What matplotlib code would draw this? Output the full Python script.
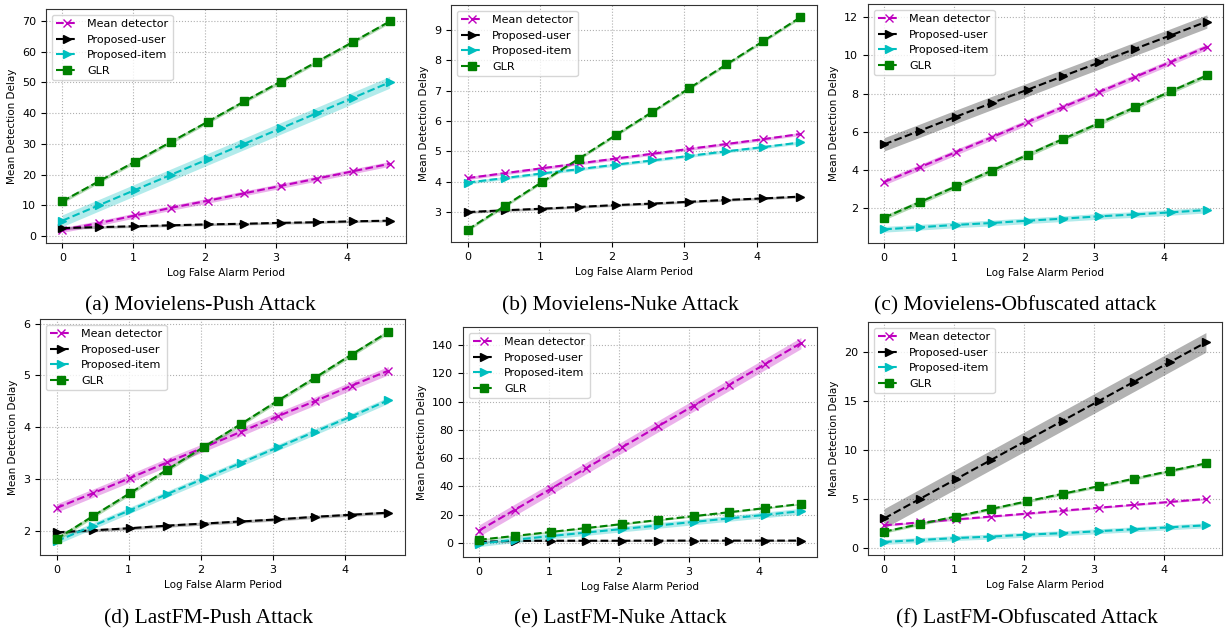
import numpy as np
import matplotlib
matplotlib.use("Agg")
import matplotlib.pyplot as plt

# x positions: log false alarm period
x_vals = [0.0, 0.512, 1.023, 1.535, 2.047, 2.558, 3.070, 3.582, 4.094, 4.605]

series_names = ["Mean detector", "Proposed-user", "Proposed-item", "GLR"]

# (a) Movielens-Push
a_mean = [2.0, 4.2, 6.7, 9.2, 11.5, 13.9, 16.3, 18.7, 21.1, 23.5]
a_user = [2.6, 2.9, 3.2, 3.5, 3.8, 4.0, 4.3, 4.5, 4.8, 5.0]
a_item = [5.0, 10.0, 15.0, 20.0, 25.0, 30.0, 35.0, 40.0, 45.0, 50.0]
a_glr = [11.3, 17.8, 24.2, 30.7, 37.2, 43.8, 50.2, 56.7, 63.2, 69.8]
a_err = [0.8, 0.4, 1.9, 0.6]

# (b) Movielens-Nuke
b_mean = [4.12, 4.28, 4.44, 4.60, 4.76, 4.92, 5.08, 5.24, 5.40, 5.57]
b_user = [3.00, 3.06, 3.11, 3.17, 3.23, 3.28, 3.34, 3.40, 3.45, 3.51]
b_item = [3.97, 4.12, 4.27, 4.41, 4.56, 4.70, 4.85, 5.00, 5.14, 5.29]
b_glr = [2.42, 3.20, 3.98, 4.75, 5.53, 6.30, 7.08, 7.86, 8.63, 9.41]
b_err = [0.05, 0.04, 0.05, 0.05]

# (c) Movielens-Obfuscated
c_mean = [3.35, 4.13, 4.92, 5.70, 6.50, 7.30, 8.08, 8.87, 9.66, 10.45]
c_user = [5.33, 6.05, 6.78, 7.50, 8.20, 8.92, 9.63, 10.35, 11.06, 11.78]
c_item = [0.87, 0.98, 1.10, 1.20, 1.32, 1.43, 1.55, 1.65, 1.76, 1.88]
c_glr = [1.48, 2.30, 3.12, 3.95, 4.78, 5.62, 6.45, 7.28, 8.12, 8.95]
c_err = [0.15, 0.35, 0.15, 0.12]

# (d) LastFM-Push
d_mean = [2.44, 2.73, 3.02, 3.32, 3.61, 3.91, 4.21, 4.50, 4.80, 5.09]
d_user = [1.97, 2.01, 2.05, 2.10, 2.14, 2.18, 2.22, 2.27, 2.31, 2.35]
d_item = [1.80, 2.10, 2.40, 2.71, 3.01, 3.31, 3.61, 3.91, 4.21, 4.52]
d_glr = [1.84, 2.29, 2.73, 3.18, 3.62, 4.06, 4.51, 4.95, 5.40, 5.84]
d_err = [0.08, 0.03, 0.06, 0.04]

# (e) LastFM-Nuke
e_mean = [8.8, 23.5, 38.2, 53.0, 67.7, 82.4, 97.1, 111.8, 126.5, 141.3]
e_user = [0.8, 1.5, 1.6, 1.6, 1.6, 1.7, 1.7, 1.7, 1.7, 1.7]
e_item = [-0.5, 2.3, 4.9, 7.4, 9.9, 12.4, 14.9, 17.4, 19.9, 22.5]
e_glr = [2.3, 5.0, 7.8, 10.6, 13.4, 16.2, 19.0, 21.8, 24.7, 27.6]
e_err = [4.0, 0.5, 2.0, 0.6]

# (f) LastFM-Obfuscated
f_mean = [2.3, 2.6, 2.9, 3.2, 3.5, 3.8, 4.1, 4.4, 4.7, 5.0]
f_user = [3.0, 5.0, 7.0, 9.0, 11.0, 13.0, 15.0, 17.0, 19.0, 21.0]
f_item = [0.6, 0.8, 1.0, 1.15, 1.35, 1.5, 1.7, 1.9, 2.1, 2.3]
f_glr = [1.65, 2.43, 3.2, 3.98, 4.76, 5.53, 6.3, 7.08, 7.86, 8.63]
f_err = [0.1, 1.0, 0.25, 0.15]

captions = ["(a) Movielens-Push Attack", "(b) Movielens-Nuke Attack",
            "(c) Movielens-Obfuscated attack", "(d) LastFM-Push Attack",
            "(e) LastFM-Nuke Attack", "(f) LastFM-Obfuscated Attack"]

panels = [
    ([a_mean, a_user, a_item, a_glr], a_err),
    ([b_mean, b_user, b_item, b_glr], b_err),
    ([c_mean, c_user, c_item, c_glr], c_err),
    ([d_mean, d_user, d_item, d_glr], d_err),
    ([e_mean, e_user, e_item, e_glr], e_err),
    ([f_mean, f_user, f_item, f_glr], f_err),
]

colors = ["m", "k", "c", "g"]
markers = ["x", ">", ">", "s"]

W, H = 1225, 628
fig = plt.figure(figsize=(W / 100, H / 100), dpi=100)

# axes boxes in pixels: left, right, top, bottom
boxes = [
    (46, 406, 9, 243),
    (451, 817, 5, 242),
    (868, 1223, 4, 243),
    (40, 405, 319, 555),
    (463, 817, 327, 557),
    (868, 1222, 322, 555),
]
cap_pos = [(200, 310), (620, 310), (1015, 310), (209, 623), (620, 623), (1027, 623)]

x = np.array(x_vals)
for i, ((ys, errs), (l, r, t, b)) in enumerate(zip(panels, boxes)):
    ax = fig.add_axes([l / W, 1 - b / H, (r - l) / W, (b - t) / H])
    for name, y, err, col, mk in zip(series_names, ys, errs, colors, markers):
        y = np.array(y)
        ax.fill_between(x, y - err, y + err, color=col, alpha=0.3, linewidth=0)
        ax.plot(x, y, linestyle="--", color=col, marker=mk, markersize=6,
                linewidth=1.5, label=name)
    ax.grid(True, linestyle=":", color="#b0b0b0", linewidth=0.8)
    ax.set_axisbelow(True)
    ax.tick_params(labelsize=8, length=3.5, width=0.8)
    ax.set_xticks([0, 1, 2, 3, 4])
    ax.set_xlabel("Log False Alarm Period", fontsize=7.5)
    ax.set_ylabel("Mean Detection Delay", fontsize=7.5)
    for s in ax.spines.values():
        s.set_linewidth(0.8)
        s.set_color("#333333")
    ax.legend(loc="upper left", fontsize=8, framealpha=0.8, edgecolor="#cccccc",
              borderpad=0.4, labelspacing=0.5, handlelength=2.0)
    cx, cy = cap_pos[i]
    fig.text(cx / W, 1 - cy / H, captions[i], ha="center", va="baseline",
             fontsize=15.5, family="Liberation Serif")

fig.savefig("out.png", dpi=100)
